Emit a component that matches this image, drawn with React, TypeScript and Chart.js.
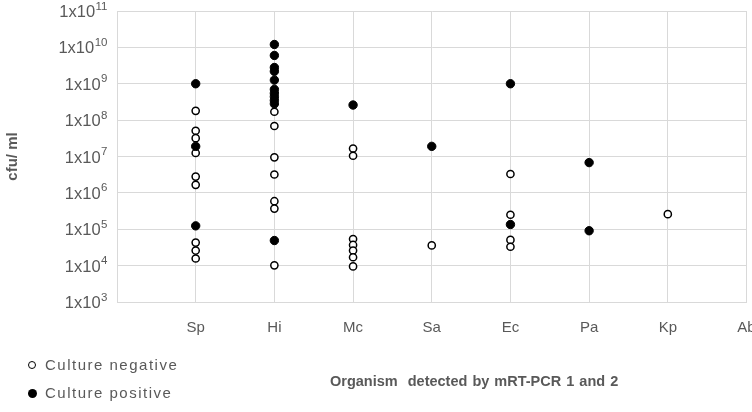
import React, { useEffect, useRef } from 'react';
import { Chart, registerables } from 'chart.js';

Chart.register(...registerables);

const categories = ['Sp', 'Hi', 'Mc', 'Sa', 'Ec', 'Pa', 'Kp', 'Ab'];
const yExponents = [3, 4, 5, 6, 7, 8, 9, 10, 11];

// Culture negative values (cfu/ml) per organism
const negSp = [1.8e8, 5.1e7, 3.2e7, 1.25e7, 2.8e6, 1.66e6, 4.3e4, 2.6e4, 1.57e4];
const negHi = [1.7e8, 6.9e7, 9.5e6, 3.2e6, 5.9e5, 3.7e5, 1.02e4];
const negMc = [1.66e7, 1.05e7, 5.4e4, 3.7e4, 2.6e4, 1.7e4, 9.5e3];
const negSa = [3.6e4];
const negEc = [3.3e6, 2.5e5, 5.1e4, 3.3e4];
const negPa: number[] = [];
const negKp = [2.6e5];
const negAb: number[] = [];

// Culture positive values (cfu/ml) per organism
const posSp = [1.0e9, 1.9e7, 1.24e5];
const posHi = [1.2e10, 6e9, 2.8e9, 2.2e9, 1.26e9, 7e8, 5.5e8, 4.4e8, 3.5e8, 2.8e8, 4.9e4];
const posMc = [2.6e8];
const posSa = [1.9e7];
const posEc = [1.0e9, 1.35e5];
const posPa = [6.8e6, 9.1e4];
const posKp: number[] = [];
const posAb: number[] = [];

const negativeSeries = [negSp, negHi, negMc, negSa, negEc, negPa, negKp, negAb];
const positiveSeries = [posSp, posHi, posMc, posSa, posEc, posPa, posKp, posAb];

const toPoints = (series: number[][]) =>
  series.flatMap((vals, i) => vals.map((v) => ({ x: i + 1, y: v })));

const GRID = '#d9d9d9';
const TEXT = '#595959';
const FONT = '"Liberation Sans", Arial, sans-serif';

const yLabelPlugin = {
  id: 'yLabels',
  afterDraw(chart: any) {
    const { ctx } = chart;
    const ys = chart.scales.y;
    ctx.save();
    ctx.fillStyle = TEXT;
    ctx.textBaseline = 'alphabetic';
    ctx.textAlign = 'left';
    const right = 107;
    yExponents.forEach((e) => {
      const y = ys.getPixelForValue(Math.pow(10, e));
      const main = '1x10';
      const sup = String(e);
      ctx.font = `16.5px ${FONT}`;
      const mw = ctx.measureText(main).width;
      ctx.font = `11.5px ${FONT}`;
      const sw = ctx.measureText(sup).width;
      const x0 = right - sw - mw;
      ctx.font = `16.5px ${FONT}`;
      ctx.fillText(main, x0, y + 6);
      ctx.font = `11.5px ${FONT}`;
      ctx.fillText(sup, x0 + mw + 0.5, y - 1.5);
    });
    ctx.restore();
  },
};

export default function App() {
  const ref = useRef<HTMLCanvasElement | null>(null);

  useEffect(() => {
    document.body.style.margin = '0';
    if (!ref.current) return;
    const chart = new Chart(ref.current, {
      type: 'scatter',
      data: {
        datasets: [
          {
            label: 'Culture positive',
            data: toPoints(positiveSeries),
            backgroundColor: '#000000',
            borderColor: '#000000',
            borderWidth: 1,
            pointRadius: 4.2,
          },
          {
            label: 'Culture negative',
            data: toPoints(negativeSeries),
            backgroundColor: '#ffffff',
            borderColor: '#000000',
            borderWidth: 1.5,
            pointRadius: 3.6,
          },
        ],
      },
      options: {
        animation: false,
        responsive: false,
        layout: { padding: { top: 11, right: 5, left: 0, bottom: 0 } },
        plugins: { legend: { display: false }, tooltip: { enabled: false } },
        scales: {
          x: {
            type: 'linear',
            min: 0,
            max: 8,
            afterFit: (s: any) => {
              s.height = 110;
              s.paddingLeft = 0;
              s.paddingRight = 0;
            },
            grid: { color: GRID, lineWidth: 1, drawTicks: false },
            border: { color: GRID },
            ticks: {
              stepSize: 1,
              autoSkip: false,
              maxRotation: 0,
              padding: 17,
              color: TEXT,
              font: { family: FONT, size: 15 },
              callback: (v: any) => (v >= 1 && v <= 8 ? categories[v - 1] : ''),
            },
          },
          y: {
            type: 'logarithmic',
            min: 1e3,
            max: 1e11,
            afterBuildTicks: (s: any) => {
              s.ticks = yExponents.map((e) => ({ value: Math.pow(10, e) }));
            },
            afterFit: (s: any) => {
              s.width = 117;
              s.paddingTop = 0;
              s.paddingBottom = 0;
            },
            grid: { color: GRID, lineWidth: 1, drawTicks: false },
            border: { color: GRID },
            ticks: { display: false },
            title: {
              display: true,
              text: 'cfu/ ml',
              color: TEXT,
              font: { family: FONT, size: 15, weight: 'bold' },
              padding: { top: 4, bottom: 0 },
            },
          },
        },
      },
      plugins: [yLabelPlugin],
    } as any);
    return () => chart.destroy();
  }, []);

  const legendText: React.CSSProperties = {
    position: 'absolute',
    left: 45,
    fontFamily: FONT,
    fontSize: 15,
    letterSpacing: '1.5px',
    color: TEXT,
    lineHeight: '16px',
    whiteSpace: 'nowrap',
  };

  return (
    <div style={{ position: 'relative', width: 752, height: 412, overflow: 'hidden' }}>
      <canvas ref={ref} width={752} height={412} style={{ display: 'block' }} />
      <div
        style={{
          position: 'absolute',
          left: 28,
          top: 361,
          width: 6,
          height: 6,
          borderRadius: '50%',
          border: '1.5px solid #000',
          background: '#fff',
        }}
      />
      <div style={{ ...legendText, top: 357 }}>Culture negative</div>
      <div
        style={{
          position: 'absolute',
          left: 27.5,
          top: 388.5,
          width: 9,
          height: 9,
          borderRadius: '50%',
          background: '#000',
        }}
      />
      <div style={{ ...legendText, top: 385 }}>Culture positive</div>
      <div
        style={{
          position: 'absolute',
          left: 330,
          top: 373,
          fontFamily: FONT,
          fontSize: 14.5,
          fontWeight: 'bold',
          color: TEXT,
          whiteSpace: 'nowrap',
          wordSpacing: '1px',
        }}
      >
        Organism&nbsp; detected by mRT-PCR 1 and 2
      </div>
    </div>
  );
}
